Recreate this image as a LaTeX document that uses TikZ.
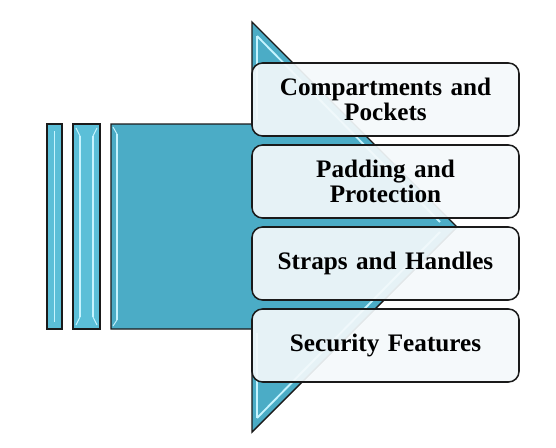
\documentclass[tikz,border=0pt]{standalone}
\usepackage{fontspec}
\setmainfont{Liberation Serif}
\usepackage{tikz}
\usetikzlibrary{positioning}
\definecolor{arrowteal}{HTML}{4BACC6}
\definecolor{barteal}{HTML}{5BBFD8}
\definecolor{glint}{HTML}{C6F4FF}
\definecolor{edgegray}{HTML}{1A1A1A}
\definecolor{boxtint}{HTML}{F4F9FB}
\tikzset{
  itembox/.style={draw=edgegray, line width=1.3pt, rounded corners=9pt,
    fill=boxtint, fill opacity=0.92, text opacity=1,
    minimum width=267*0.03cm, minimum height=73*0.03cm,
    text width=255*0.03cm, align=center, inner sep=0pt,
    font=\fontsize{21.5}{21}\selectfont\bfseries},
  barshape/.style={draw=edgegray, line width=1.2pt, fill=barteal},
  glintline/.style={glint, line width=1.6pt}
}
\begin{document}
\begin{tikzpicture}[x=0.03cm, y=-0.03cm]
\useasboundingbox (0,0) rectangle (556,448);
% -- thin bars --
\draw[barshape] (47,124) rectangle (62,329);
\draw[glintline] (54.5,131) to (54.5,322);
\draw[barshape] (73,124) rectangle (100,329);
\draw[glintline] (80,136) to (80,317);
\draw[glintline] (93,136) to (93,317);
\draw[glint, line width=0.8pt] (76,128) to (80,136);
\draw[glint, line width=0.8pt] (97,128) to (93,136);
\draw[glint, line width=0.8pt] (76,325) to (80,317);
\draw[glint, line width=0.8pt] (97,325) to (93,317);
% -- big arrow --
\draw[draw=edgegray, line width=1.2pt, fill=arrowteal]
  (111,124) -- (252,124) -- (252,22) -- (457,227) -- (252,432) -- (252,329) -- (111,329) -- cycle;
\draw[glintline] (117,134) to (117,320);
\draw[glint, line width=0.8pt] (113,127) to (117,134);
\draw[glint, line width=0.8pt] (113,326) to (117,320);
\draw[glintline] (257,36) to (257,120);
\draw[glintline] (257,36) to (440,222);
\draw[glintline] (257,418) to (257,333);
\draw[glintline] (257,418) to (440,232);
% -- text boxes --
\node[itembox] (pockets) at (385.5,99.5) {Compartments and\\Pockets};
\node[itembox] (padding) at (385.5,181.5) {Padding and\\Protection};
\node[itembox] (straps) at (385.5,263.5) {Straps and Handles};
\node[itembox] (security) at (385.5,345.5) {Security Features};
\end{tikzpicture}
\end{document}
